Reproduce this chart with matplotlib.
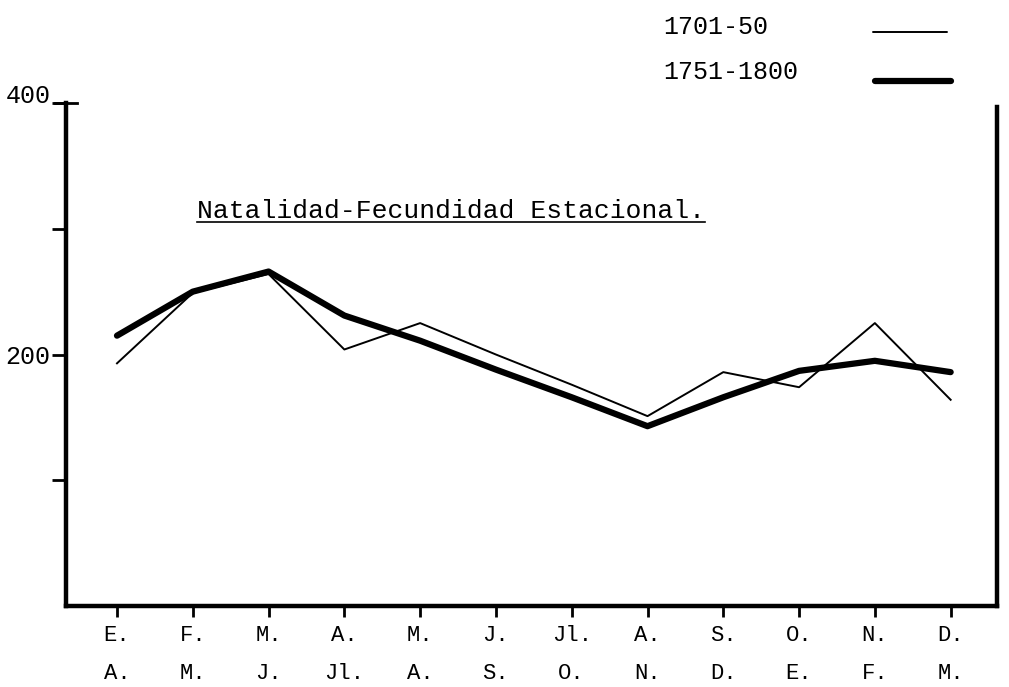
import matplotlib
matplotlib.use("Agg")
import matplotlib.pyplot as plt
from matplotlib.lines import Line2D

plt.rcParams['font.family'] = ['Liberation Mono', 'DejaVu Sans Mono']

# data
meses_1 = ["E.", "F.", "M.", "A.", "M.", "J.", "Jl.", "A.", "S.", "O.", "N.", "D."]
meses_2 = ["A.", "M.", "J.", "Jl.", "A.", "S.", "O.", "N.", "D.", "E.", "F.", "M."]
series = ["1701-50", "1751-1800"]
s1701_50 = [193, 249, 264, 204, 225, 200, 176, 151, 186, 174, 225, 164]
s1751_1800 = [215, 250, 266, 231, 211, 188, 166, 143, 166, 187, 195, 186]

x = list(range(len(meses_1)))
W, H = 1009, 687

fig = plt.figure(figsize=(W / 100, H / 100), dpi=100)
ax = fig.add_axes([0.0654, 0.1179, 0.9226, 0.7321])

ax.plot(x, s1701_50, color="black", lw=1.4)
ax.plot(x, s1751_1800, color="black", lw=4.5, solid_capstyle="round",
        solid_joinstyle="round")

ax.set_xlim(-0.673, 11.61)
ax.set_ylim(0, 400)

ax.spines["top"].set_visible(False)
for side in ["left", "bottom", "right"]:
    ax.spines[side].set_linewidth(3.2)
ax.spines["right"].set_bounds(0, 397)

ax.set_xticks(x)
ax.set_xticklabels([a + "\n" + b for a, b in zip(meses_1, meses_2)],
                   linespacing=2.05, fontsize=16)
ax.tick_params(axis="x", direction="out", length=8, width=2, pad=6)

ax.set_yticks([100, 200, 300, 400])
ax.set_yticklabels(["", "200", "", "400"], fontsize=18)
ax.tick_params(axis="y", direction="out", length=10, width=2, pad=1)
ax.get_yticklabels()[3].set_va("baseline")
ax.plot([-0.012, 0.012], [400, 400], color="black", lw=2,
        transform=ax.get_yaxis_transform(), clip_on=False)

titulo = ax.text(4.41, 314, "Natalidad-Fecundidad Estacional.",
                 ha="center", va="center", fontsize=19)
fig.canvas.draw()
bb = titulo.get_window_extent().transformed(ax.transData.inverted())
ax.plot([bb.x0, bb.x1], [bb.y0 + 1, bb.y0 + 1], color="black", lw=1.2)

# legend: label on the left, line sample on the right
leg_txt_y = [27, 72]
leg_line = [(873, 947, 32, 1.4), (875, 951, 81, 4.5)]
for nombre, ty, (x0, x1, ly, lw) in zip(series, leg_txt_y, leg_line):
    fig.text(663 / W, 1 - ty / H, nombre, ha="left", va="center", fontsize=18)
    fig.add_artist(Line2D([x0 / W, x1 / W], [1 - ly / H, 1 - ly / H],
                          color="black", lw=lw, solid_capstyle="round",
                          transform=fig.transFigure))

fig.savefig("out.png", dpi=100)
